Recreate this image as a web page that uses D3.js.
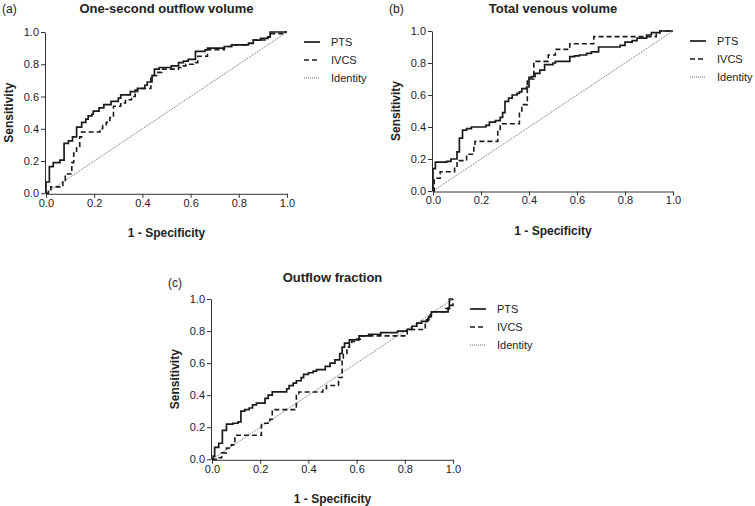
<!DOCTYPE html>
<html>
<head>
<meta charset="utf-8">
<script src="https://cdn.jsdelivr.net/npm/d3@7/dist/d3.min.js"></script>
<style>
  html, body { margin: 0; padding: 0; background: #fff; }
  svg { display: block; }
  text { font-family: "Liberation Sans", Arial, Helvetica, sans-serif; fill: #222; }
</style>
</head>
<body>
<svg id="chart" width="755" height="506"></svg>
<script>
// ---------- data ----------
const tickValues = [0, 0.2, 0.4, 0.6, 0.8, 1.0];
const seriesNames = ["PTS", "IVCS", "Identity"];
const panelLabels = ["(a)", "(b)", "(c)"];
const panelTitles = ["One-second outflow volume", "Total venous volume", "Outflow fraction"];
const xAxisTitle = "1 - Specificity";
const yAxisTitle = "Sensitivity";

// Panel (a) One-second outflow volume
const aPtsFpr = [0,0,0.014,0.03,0.058,0.075,0.093,0.11,0.127,0.148,0.165,0.175,0.19,0.196,0.22,0.24,0.27,0.30,0.31,0.35,0.37,0.38,0.41,0.42,0.44,0.45,0.47,0.52,0.55,0.57,0.59,0.62,0.62,0.66,0.67,0.74,0.77,0.84,0.86,0.89,0.92,0.93,1.0];
const aPtsTpr = [0,0.07,0.165,0.19,0.206,0.31,0.325,0.35,0.41,0.44,0.46,0.48,0.49,0.51,0.53,0.55,0.57,0.59,0.61,0.63,0.64,0.65,0.67,0.69,0.73,0.77,0.78,0.79,0.81,0.82,0.83,0.84,0.88,0.89,0.90,0.91,0.92,0.93,0.95,0.96,0.97,1.0,1.0];
const aIvcsFpr = [0,0.01,0.02,0.07,0.08,0.107,0.115,0.127,0.14,0.148,0.224,0.235,0.25,0.265,0.28,0.31,0.33,0.355,0.37,0.38,0.435,0.46,0.48,0.55,0.56,0.58,0.62,0.63,0.67,0.74,0.77,0.83,0.86,0.92,0.93,0.99,1.0];
const aIvcsTpr = [0,0.02,0.04,0.08,0.12,0.19,0.25,0.29,0.35,0.38,0.40,0.42,0.44,0.47,0.54,0.56,0.58,0.60,0.63,0.65,0.73,0.75,0.77,0.78,0.79,0.80,0.81,0.85,0.89,0.91,0.92,0.93,0.95,0.97,0.99,1.0,1.0];

// Panel (b) Total venous volume
const bPtsFpr = [0,0,0.01,0.057,0.075,0.1,0.11,0.123,0.14,0.16,0.22,0.235,0.26,0.28,0.29,0.30,0.315,0.33,0.35,0.36,0.37,0.39,0.40,0.41,0.425,0.445,0.465,0.50,0.51,0.57,0.59,0.61,0.64,0.66,0.69,0.78,0.80,0.83,0.85,0.89,0.91,0.945,1.0];
const bPtsTpr = [0,0.14,0.18,0.185,0.20,0.245,0.33,0.38,0.39,0.40,0.41,0.43,0.44,0.46,0.49,0.56,0.58,0.60,0.61,0.62,0.64,0.65,0.71,0.715,0.735,0.755,0.79,0.80,0.81,0.84,0.845,0.85,0.86,0.87,0.90,0.91,0.93,0.94,0.955,0.975,0.99,1.0,1.0];
const bIvcsFpr = [0,0.005,0.03,0.09,0.10,0.14,0.17,0.175,0.27,0.28,0.36,0.37,0.393,0.42,0.48,0.51,0.57,0.67,0.93,0.945,1.0];
const bIvcsTpr = [0,0.08,0.12,0.15,0.19,0.23,0.28,0.31,0.38,0.42,0.50,0.54,0.70,0.81,0.85,0.885,0.92,0.965,0.98,1.0,1.0];

// Panel (c) Outflow fraction
const cPtsFpr = [0,0.005,0.011,0.028,0.043,0.06,0.087,0.108,0.12,0.136,0.154,0.168,0.184,0.22,0.233,0.25,0.31,0.32,0.337,0.35,0.37,0.38,0.40,0.42,0.434,0.47,0.49,0.51,0.53,0.54,0.55,0.57,0.61,0.65,0.70,0.77,0.81,0.83,0.85,0.87,0.89,0.90,0.91,0.98,0.985,1.0];
const cPtsTpr = [0,0.02,0.075,0.10,0.18,0.22,0.225,0.233,0.30,0.31,0.32,0.34,0.35,0.38,0.40,0.42,0.44,0.46,0.475,0.49,0.51,0.53,0.54,0.55,0.56,0.58,0.60,0.62,0.66,0.70,0.725,0.745,0.77,0.78,0.79,0.80,0.81,0.83,0.85,0.86,0.87,0.89,0.92,0.945,1.0,1.0];
const cIvcsFpr = [0,0.025,0.04,0.06,0.08,0.095,0.205,0.24,0.25,0.35,0.36,0.46,0.475,0.525,0.54,0.545,0.56,0.57,0.58,0.60,0.615,0.81,0.885,0.895,0.905,0.91,0.97,0.99,1.0];
const cIvcsTpr = [0,0.01,0.04,0.07,0.09,0.15,0.225,0.25,0.31,0.41,0.42,0.44,0.46,0.51,0.62,0.66,0.70,0.725,0.735,0.75,0.77,0.81,0.86,0.88,0.90,0.92,0.94,0.96,1.0];

const identityFpr = [0, 1];
const identityTpr = [0, 1];

// ---------- layout ----------
const layout = [
  { x0: 46,  x1: 287, yTop: 32,  yBot: 193.3, labelY: 12.5, titleY: 13 },
  { x0: 433, x1: 673, yTop: 31,  yBot: 191,   labelY: 12.5, titleY: 12.5 },
  { x0: 212, x1: 453, yTop: 299, yBot: 459.3, labelY: 287,  titleY: 281.5 }
];
const panelData = [
  { pts: [aPtsFpr, aPtsTpr], ivcs: [aIvcsFpr, aIvcsTpr] },
  { pts: [bPtsFpr, bPtsTpr], ivcs: [bIvcsFpr, bIvcsTpr] },
  { pts: [cPtsFpr, cPtsTpr], ivcs: [cIvcsFpr, cIvcsTpr] }
];

const styles = {
  PTS:      { width: 1.7, dash: null,  color: "#1a1a1a" },
  IVCS:     { width: 1.6, dash: "5,3", color: "#1a1a1a" },
  Identity: { width: 0.8, dash: "1,1", color: "#444" }
};

const svg = d3.select("#chart");
const fmt = d3.format(".1f");

const zip = (xs, ys) => xs.map((v, i) => [v, ys[i]]);

layout.forEach((L, i) => {
  const g = svg.append("g");
  const x = d3.scaleLinear().domain([0, 1]).range([L.x0, L.x1]);
  const y = d3.scaleLinear().domain([0, 1]).range([L.yBot, L.yTop]);

  // axes
  const yAx = g.append("g").attr("transform", `translate(${L.x0 - 1},0)`)
    .call(d3.axisLeft(y).tickValues(tickValues).tickFormat(fmt).tickSize(4).tickSizeOuter(0).tickPadding(2));
  const xAx = g.append("g").attr("transform", `translate(0,${L.yBot + 0.5})`)
    .call(d3.axisBottom(x).tickValues(tickValues).tickFormat(fmt).tickSize(4).tickSizeOuter(0).tickPadding(1));
  [yAx, xAx].forEach(ax => {
    ax.selectAll("path.domain").attr("stroke", "#333").attr("stroke-width", 1);
    ax.selectAll(".tick line").attr("stroke", "#333").attr("stroke-width", 1);
    ax.selectAll(".tick text").style("font-size", "11px").style("fill", "#222")
      .style("font-family", '"Liberation Sans", Arial, sans-serif');
  });

  // identity line
  const straight = d3.line().x(d => x(d[0])).y(d => y(d[1]));
  g.append("path").datum(zip(identityFpr, identityTpr))
    .attr("d", straight).attr("fill", "none")
    .attr("stroke", styles.Identity.color).attr("stroke-width", styles.Identity.width)
    .attr("stroke-dasharray", styles.Identity.dash);

  // ROC step lines
  const step = d3.line().x(d => x(d[0])).y(d => y(d[1])).curve(d3.curveStepAfter);
  [["IVCS", panelData[i].ivcs], ["PTS", panelData[i].pts]].forEach(([name, arr]) => {
    const s = styles[name];
    g.append("path").datum(zip(arr[0], arr[1]))
      .attr("d", step).attr("fill", "none")
      .attr("stroke", s.color).attr("stroke-width", s.width)
      .attr("stroke-dasharray", s.dash).attr("stroke-linejoin", "miter");
  });

  // panel label and title
  g.append("text").attr("x", L.x0 - 44).attr("y", L.labelY)
    .style("font-size", "12px").text(panelLabels[i]);
  g.append("text").attr("x", (L.x0 + L.x1) / 2).attr("y", L.titleY)
    .attr("text-anchor", "middle").style("font-size", "13px").style("font-weight", "bold")
    .text(panelTitles[i]);

  // axis titles
  g.append("text")
    .attr("transform", `translate(${L.x0 - 33},${(L.yTop + L.yBot) / 2}) rotate(-90)`)
    .attr("text-anchor", "middle").style("font-size", "12px").style("font-weight", "bold")
    .text(yAxisTitle);
  g.append("text").attr("x", (L.x0 + L.x1) / 2).attr("y", L.yBot + 44)
    .attr("text-anchor", "middle").style("font-size", "12px").style("font-weight", "bold")
    .text(xAxisTitle);

  // legend
  seriesNames.forEach((name, k) => {
    const s = styles[name];
    const cy = L.yTop + 10 + k * 18;
    g.append("line").attr("x1", L.x1 + 17).attr("x2", L.x1 + 33)
      .attr("y1", cy).attr("y2", cy)
      .attr("stroke", s.color).attr("stroke-width", name === "Identity" ? 0.8 : s.width)
      .attr("stroke-dasharray", s.dash);
    g.append("text").attr("x", L.x1 + 44).attr("y", cy + 4)
      .style("font-size", "11px").text(name);
  });
});
</script>
</body>
</html>
